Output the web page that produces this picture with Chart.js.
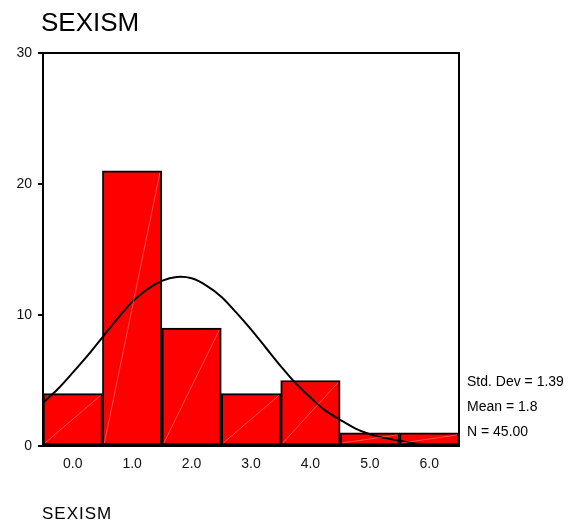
<!DOCTYPE html>
<html>
<head>
<meta charset="utf-8">
<script src="https://cdn.jsdelivr.net/npm/chart.js@4/dist/chart.umd.min.js"></script>
<style>
  html, body { margin: 0; padding: 0; background: #fff; }
  #wrap { width: 587px; height: 524px; }
</style>
</head>
<body>
<div id="wrap"><canvas id="c" width="587" height="524"></canvas></div>
<script>
var categories = [0, 1, 2, 3, 4, 5, 6];
var counts = [4, 21, 9, 4, 5, 1, 1];
var yTicks = [0, 10, 20, 30];

var curveX = [-0.5, -0.25, 0, 0.25, 0.5, 0.75, 1, 1.25, 1.5, 1.75, 2, 2.25, 2.5, 2.75, 3, 3.25, 3.5, 3.75, 4, 4.25, 4.5, 4.75, 5, 5.25, 5.5, 5.75, 6, 6.25, 6.5];
var curveY = [3.3, 4.35, 5.6, 6.9, 8.3, 9.7, 11.0, 11.95, 12.6, 12.9, 12.8, 12.25, 11.4, 10.2, 8.9, 7.5, 6.1, 4.8, 3.7, 2.7, 2.0, 1.35, 0.9, 0.6, 0.4, 0.2, 0.1, 0.08, 0.05];

var statLines = ['Std. Dev = 1.39', 'Mean = 1.8', 'N = 45.00'];

var barData = categories.map(function (c, i) { return { x: c, y: counts[i] }; });
var curveData = curveX.map(function (x, i) { return { x: x, y: curveY[i] }; });

var fontFam = 'Arial, "Liberation Sans", sans-serif';

// plugin voor de kader, de witte diagonalen en de teksten
var extras = {
    id: 'extras',
    afterDatasetsDraw: function (chart) {
        var ctx = chart.ctx;
        ctx.save();
        // dunne witte diagonaal in elke staaf
        var meta = chart.getDatasetMeta(0);
        ctx.strokeStyle = 'rgba(255,190,190,0.7)';
        ctx.lineWidth = 0.6;
        meta.data.forEach(function (bar) {
            var left = bar.x - bar.width / 2, right = bar.x + bar.width / 2;
            ctx.beginPath();
            ctx.moveTo(left + 2, bar.base - 2);
            ctx.lineTo(right - 2, bar.y + 2);
            ctx.stroke();
        });
        ctx.restore();
    },
    afterDraw: function (chart) {
        var ctx = chart.ctx;
        var a = chart.chartArea;
        ctx.save();
        ctx.strokeStyle = '#000';
        ctx.lineWidth = 2;
        ctx.strokeRect(a.left, a.top, a.right - a.left, a.bottom - a.top);

        ctx.fillStyle = '#000';
        ctx.textBaseline = 'alphabetic';
        ctx.textAlign = 'left';
        ctx.font = '26px ' + fontFam;
        ctx.fillText('SEXISM', 41, 31);

        ctx.font = '17px ' + fontFam;
        ctx.letterSpacing = '1px';
        ctx.fillText('SEXISM', 42, 519);
        ctx.letterSpacing = '0px';

        ctx.font = '14px ' + fontFam;
        statLines.forEach(function (t, i) {
            ctx.fillText(t, 467, 386 + i * 25);
        });
        ctx.restore();
    }
};

new Chart(document.getElementById('c'), {
    type: 'bar',
    data: {
        datasets: [
            {
                type: 'bar',
                data: barData,
                backgroundColor: '#ff0000',
                borderColor: '#000',
                borderWidth: 2,
                borderSkipped: false,
                barPercentage: 1.0,
                categoryPercentage: 1.0,
                order: 2
            },
            {
                type: 'line',
                data: curveData,
                borderColor: '#000',
                borderWidth: 2,
                pointRadius: 0,
                fill: false,
                tension: 0.3,
                order: 1
            }
        ]
    },
    options: {
        responsive: false,
        animation: false,
        layout: { padding: { left: 0, top: 53, right: 128, bottom: 48 } },
        plugins: {
            legend: { display: false },
            title: { display: false },
            tooltip: { enabled: false }
        },
        scales: {
            x: {
                type: 'linear',
                min: -0.5,
                max: 6.5,
                offset: false,
                grid: { display: false, drawTicks: false },
                border: { display: false },
                afterBuildTicks: function (axis) {
                    axis.ticks = categories.map(function (v) { return { value: v }; });
                },
                afterFit: function (axis) { axis.height = 30; },
                ticks: {
                    color: '#111',
                    padding: 10,
                    font: { family: fontFam, size: 14 },
                    maxRotation: 0,
                    callback: function (v) { return v.toFixed(1); }
                }
            },
            y: {
                min: 0,
                max: 30,
                grid: { drawOnChartArea: false, color: '#000', tickLength: 5, lineWidth: 2 },
                border: { display: false },
                afterBuildTicks: function (axis) {
                    axis.ticks = yTicks.map(function (v) { return { value: v }; });
                },
                afterFit: function (axis) { axis.width = 43; },
                ticks: {
                    color: '#111',
                    padding: 6,
                    font: { family: fontFam, size: 14 }
                }
            }
        }
    },
    plugins: [extras]
});
</script>
</body>
</html>
